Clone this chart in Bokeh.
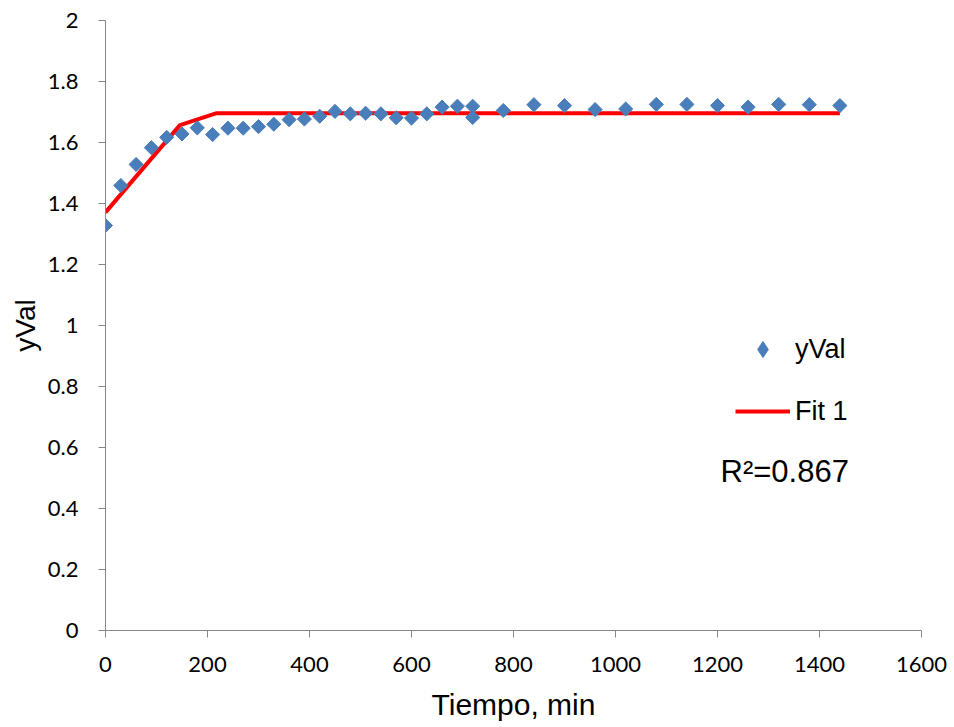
import numpy as np
from bokeh.plotting import figure
from bokeh.models import Range1d, FixedTicker, Legend, LegendItem, Label
from bokeh.embed import file_html
from bokeh.resources import INLINE

# ---- data ----
time_min = [0, 30, 60, 90, 120, 150, 180, 210, 240, 270, 300, 330, 360, 390, 420,
            450, 480, 510, 540, 570, 600, 630, 660, 690, 720, 720, 780, 840, 900,
            960, 1020, 1080, 1140, 1200, 1260, 1320, 1380, 1440]
y_val = [1.328, 1.459, 1.528, 1.583, 1.617, 1.628, 1.648, 1.626, 1.647, 1.647,
         1.652, 1.660, 1.675, 1.677, 1.686, 1.702, 1.694, 1.696, 1.694, 1.681,
         1.680, 1.694, 1.716, 1.719, 1.719, 1.682, 1.705, 1.724, 1.721, 1.708,
         1.710, 1.725, 1.725, 1.721, 1.716, 1.725, 1.724, 1.721]
fit_x = [0, 146, 218, 1440]
fit_y = [1.371, 1.657, 1.696, 1.696]

x_ticks = [0, 200, 400, 600, 800, 1000, 1200, 1400, 1600]
x_tick_labels = ["0", "200", "400", "600", "800", "1000", "1200", "1400", "1600"]
y_ticks = [0, 0.2, 0.4, 0.6, 0.8, 1.0, 1.2, 1.4, 1.6, 1.8, 2.0]
y_tick_labels = ["0", "0.2", "0.4", "0.6", "0.8", "1", "1.2", "1.4", "1.6", "1.8", "2"]
r2_text = "R\u00b2=0.867"

BLUE = "#4A7EBB"
RED = "#FF0000"
AXIS_GREY = "#868686"

p = figure(width=954, height=727, output_backend="svg", toolbar_location=None,
           x_range=Range1d(0, 1600), y_range=Range1d(0, 2),
           min_border_left=105, min_border_right=33, min_border_top=20,
           min_border_bottom=97)
p.outline_line_color = None
p.grid.visible = False
p.background_fill_color = "white"
p.border_fill_color = "white"

fit_r = p.line(fit_x, fit_y, line_color=RED, line_width=4)
pts_r = p.scatter(time_min, y_val, marker="square", size=10, angle=np.pi / 4,
                  fill_color=BLUE, line_color=BLUE)
# zero-size diamond renderer of the same series: only gives the legend its diamond glyph
leg_pts = p.scatter(time_min, y_val, marker="diamond", size=0,
                    fill_color=BLUE, line_color=BLUE)

for ax, ticks, labels in ((p.xaxis[0], x_ticks, x_tick_labels),
                          (p.yaxis[0], y_ticks, y_tick_labels)):
    ax.ticker = FixedTicker(ticks=ticks)
    ax.major_label_overrides = {t: l for t, l in zip(ticks, labels)}
    ax.axis_line_color = AXIS_GREY
    ax.major_tick_line_color = AXIS_GREY
    ax.minor_tick_line_color = None
    ax.major_tick_in = 0
    ax.major_tick_out = 7
    ax.major_label_text_font = "Lato"
    ax.major_label_text_font_size = "22px"
    ax.major_label_text_color = "black"
    ax.axis_label_text_font = "Liberation Sans"
    ax.axis_label_text_font_style = "normal"
    ax.axis_label_text_color = "black"

p.xaxis.axis_label = "Tiempo, min"
p.xaxis.axis_label_text_font_size = "30px"
p.xaxis.major_label_standoff = 19
p.xaxis.axis_label_standoff = 13
p.yaxis.axis_label = "yVal"
p.yaxis.axis_label_text_font_size = "28px"
p.yaxis.major_label_standoff = 20
p.yaxis.axis_label_standoff = 4

legend = Legend(items=[LegendItem(label="yVal", renderers=[leg_pts]),
                       LegendItem(label="Fit 1", renderers=[fit_r])],
                location=(630, 199), orientation="vertical",
                glyph_width=55, glyph_height=40, label_height=40,
                label_standoff=5, spacing=22, padding=0, margin=0,
                label_text_font="Liberation Sans", label_text_font_size="27px",
                label_text_color="black",
                background_fill_alpha=0, border_line_color=None)
p.add_layout(legend)

p.add_layout(Label(x=1206, y=0.521, text=r2_text, text_font="Liberation Sans",
                   text_font_size="31px", text_color="black",
                   text_baseline="alphabetic"))

open("out.html", "w").write(file_html(p, INLINE))
